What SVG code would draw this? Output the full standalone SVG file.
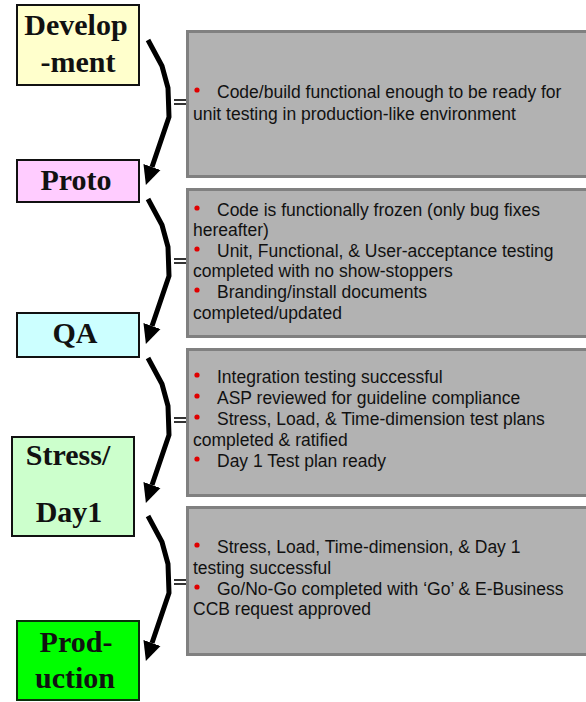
<svg xmlns="http://www.w3.org/2000/svg" width="586" height="702" viewBox="0 0 586 702">
  <style>
    .stage { stroke: #111; stroke-width: 2; }
    .stage-label { font-family: "Liberation Serif", "Times New Roman", serif; font-weight: bold; font-size: 30px; fill: #111; text-anchor: middle; }
    .panel { fill: #b2b2b2; stroke: #808080; stroke-width: 3; }
    .panel-text { font-family: "Liberation Sans", Arial, sans-serif; font-size: 17.5px; fill: #111; }
    .dot { fill: #e00000; }
    .flow { fill: none; stroke: #000; stroke-width: 5; stroke-linejoin: miter; }
    .eq { stroke: #000; stroke-width: 1.6; }
  </style>
  <defs>
    <marker id="head" markerUnits="userSpaceOnUse" markerWidth="22" markerHeight="20" viewBox="0 -10 22 20" refX="0" refY="0" orient="auto">
      <path d="M0,-9 L19,0 L0,9 z" fill="#000"/>
    </marker>
  </defs>

  <rect width="586" height="702" fill="#fff"/>

  <!-- criteria panels -->
  <g id="panel-dev">
    <rect class="panel" x="187.5" y="31.5" width="420" height="145"/>
    <circle class="dot" cx="197" cy="90" r="2.6"/>
    <text class="panel-text" x="217" y="98">Code/build functional enough to be ready for</text>
    <text class="panel-text" x="193" y="120">unit testing in production-like environment</text>
  </g>
  <g id="panel-proto">
    <rect class="panel" x="187.5" y="189.5" width="420" height="147"/>
    <circle class="dot" cx="197" cy="208" r="2.6"/>
    <text class="panel-text" x="217" y="216">Code is functionally frozen (only bug fixes</text>
    <text class="panel-text" x="193" y="236">hereafter)</text>
    <circle class="dot" cx="197" cy="249" r="2.6"/>
    <text class="panel-text" x="217" y="257">Unit, Functional, &amp; User-acceptance testing</text>
    <text class="panel-text" x="193" y="277">completed with no show-stoppers</text>
    <circle class="dot" cx="197" cy="290" r="2.6"/>
    <text class="panel-text" x="217" y="298">Branding/install documents</text>
    <text class="panel-text" x="193" y="319">completed/updated</text>
  </g>
  <g id="panel-qa">
    <rect class="panel" x="187.5" y="349.5" width="420" height="146"/>
    <circle class="dot" cx="197" cy="375" r="2.6"/>
    <text class="panel-text" x="217" y="383">Integration testing successful</text>
    <circle class="dot" cx="197" cy="396" r="2.6"/>
    <text class="panel-text" x="217" y="404">ASP reviewed for guideline compliance</text>
    <circle class="dot" cx="197" cy="417" r="2.6"/>
    <text class="panel-text" x="217" y="425">Stress, Load, &amp; Time-dimension test plans</text>
    <text class="panel-text" x="193" y="446">completed &amp; ratified</text>
    <circle class="dot" cx="197" cy="459" r="2.6"/>
    <text class="panel-text" x="217" y="467">Day 1 Test plan ready</text>
  </g>
  <g id="panel-stress">
    <rect class="panel" x="187.5" y="507.5" width="420" height="147"/>
    <circle class="dot" cx="197" cy="545" r="2.6"/>
    <text class="panel-text" x="217" y="553">Stress, Load, Time-dimension, &amp; Day 1</text>
    <text class="panel-text" x="193" y="574">testing successful</text>
    <circle class="dot" cx="197" cy="587" r="2.6"/>
    <text class="panel-text" x="217" y="595">Go/No-Go completed with ‘Go’ &amp; E-Business</text>
    <text class="panel-text" x="193" y="615">CCB request approved</text>
  </g>

  <!-- stages -->
  <g id="stage-development">
    <rect class="stage" x="17" y="5" width="122" height="80" fill="#ffffcc"/>
    <text class="stage-label" x="76" y="35">Develop</text>
    <text class="stage-label" x="78" y="72">-ment</text>
  </g>
  <g id="stage-proto">
    <rect class="stage" x="17" y="160" width="122" height="42" fill="#ffccff"/>
    <text class="stage-label" x="76" y="190">Proto</text>
  </g>
  <g id="stage-qa">
    <rect class="stage" x="17" y="313" width="122" height="44" fill="#ccffff"/>
    <text class="stage-label" x="75" y="343">QA</text>
  </g>
  <g id="stage-stress">
    <rect class="stage" x="12" y="437" width="122" height="99" fill="#ccffcc"/>
    <text class="stage-label" x="68" y="465">Stress/</text>
    <text class="stage-label" x="69" y="522">Day1</text>
  </g>
  <g id="stage-production">
    <rect x="17" y="621" width="122" height="79" fill="#00ff00" stroke="#0a300a" stroke-width="2"/>
    <text class="stage-label" x="76" y="652">Prod-</text>
    <text class="stage-label" x="75" y="688">uction</text>
  </g>

  <!-- brace-shaped transitions with "=" pointing at each panel -->
  <g id="connectors">
    <g>
      <path class="flow" d="M148,40 L162,66 L168,88 L169,117 L152,167" marker-end="url(#head)"/>
      <line class="eq" x1="174" y1="100" x2="186" y2="100"/>
      <line class="eq" x1="174" y1="104" x2="186" y2="104"/>
    </g>
    <g transform="translate(0,159)">
      <path class="flow" d="M148,40 L162,66 L168,88 L169,117 L152,167" marker-end="url(#head)"/>
      <line class="eq" x1="174" y1="100" x2="186" y2="100"/>
      <line class="eq" x1="174" y1="104" x2="186" y2="104"/>
    </g>
    <g transform="translate(0,318)">
      <path class="flow" d="M148,40 L162,66 L168,88 L169,117 L152,167" marker-end="url(#head)"/>
      <line class="eq" x1="174" y1="100" x2="186" y2="100"/>
      <line class="eq" x1="174" y1="104" x2="186" y2="104"/>
    </g>
    <g transform="translate(0,476)">
      <path class="flow" d="M148,40 L162,66 L168,88 L169,117 L152,167" marker-end="url(#head)"/>
      <line class="eq" x1="174" y1="104" x2="186" y2="104"/>
      <line class="eq" x1="174" y1="108" x2="186" y2="108"/>
    </g>
  </g>
</svg>
